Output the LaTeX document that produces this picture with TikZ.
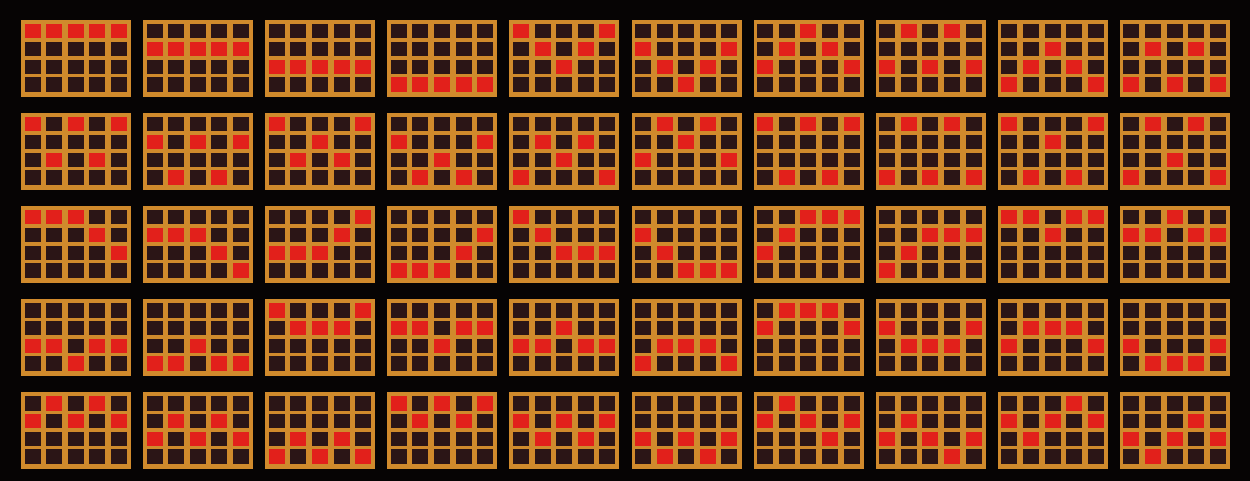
\documentclass[tikz,border=0pt]{standalone}
\definecolor{frameor}{HTML}{D08A2C}
\definecolor{cellbg}{HTML}{2B1516}
\definecolor{hitred}{HTML}{E2201B}
\definecolor{bgcol}{HTML}{060404}
\tikzset{
  boardframe/.style={fill=frameor},
  boardcell/.style={fill=cellbg},
  hitcell/.style={fill=hitred}
}
\begin{document}
\begin{tikzpicture}[x=1pt,y=-1pt]
\fill[bgcol] (0,0) rectangle (1250,481);
\useasboundingbox (0,0) rectangle (1250,481);
\foreach \a/\b/\cc/\d/\e [count=\n from 0] in {
0/0/0/0/0, 1/1/1/1/1, 2/2/2/2/2, 3/3/3/3/3, 0/1/2/1/0, 1/2/3/2/1, 2/1/0/1/2, 2/0/2/0/2, 3/2/1/2/3, 3/1/3/1/3,
0/2/0/2/0, 1/3/1/3/1, 0/2/1/2/0, 1/3/2/3/1, 3/1/2/1/3, 2/0/1/0/2, 0/3/0/3/0, 3/0/3/0/3, 0/3/1/3/0, 3/0/2/0/3,
0/0/0/1/2, 1/1/1/2/3, 2/2/2/1/0, 3/3/3/2/1, 0/1/2/2/2, 1/2/3/3/3, 2/1/0/0/0, 3/2/1/1/1, 0/0/1/0/0, 1/1/0/1/1,
2/2/3/2/2, 3/3/2/3/3, 0/1/1/1/0, 1/1/2/1/1, 2/2/1/2/2, 3/2/2/2/3, 1/0/0/0/1, 1/2/2/2/1, 2/1/1/1/2, 2/3/3/3/2,
1/0/1/0/1, 2/1/2/1/2, 3/2/3/2/3, 0/1/0/1/0, 1/2/1/2/1, 2/3/2/3/2, 1/0/1/2/1, 2/1/2/3/2, 1/2/1/0/1, 2/3/2/1/2}{
  \pgfmathsetmacro\bx{21+122.1*mod(\n,10)}
  \pgfmathsetmacro\by{20+93*int(\n/10)}
  \begin{scope}[shift={(\bx,\by)}]
    \fill[boardframe] (0,0) rectangle (110,77);
    \foreach \i in {0,...,4}{
      \foreach \j in {0,...,3}{
        \fill[boardcell] ({3.5+21.6*\i},{4+17.8*\j}) rectangle +(16,14.5);
      }
    }
    \foreach \r [count=\k from 0] in {\a,\b,\cc,\d,\e}{
      \fill[hitcell] ({3.5+21.6*\k},{4+17.8*\r}) rectangle +(16,14.5);
    }
  \end{scope}
}
\end{tikzpicture}
\end{document}
